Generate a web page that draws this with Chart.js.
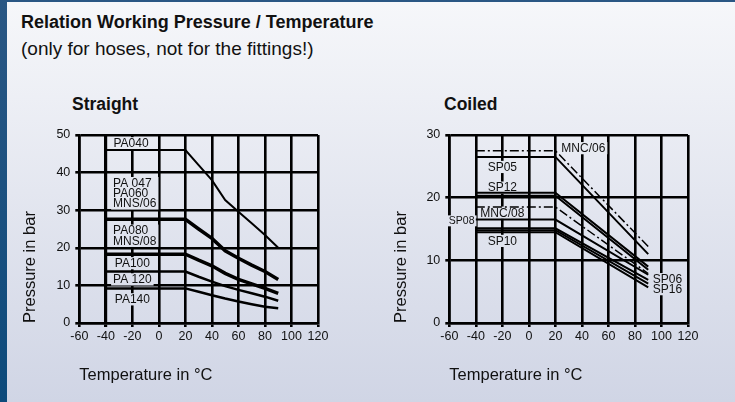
<!DOCTYPE html>
<html>
<head>
<meta charset="utf-8">
<script src="https://cdn.jsdelivr.net/npm/chart.js@4.4.1/dist/chart.umd.min.js"></script>
<style>
html, body { margin: 0; padding: 0; }
body {
    width: 735px; height: 402px; overflow: hidden; position: relative;
    background: linear-gradient(180deg, #2a5784 0%, #0c4a7b 100%);
    font-family: "Liberation Sans", Arial, sans-serif; color: #111;
}
#panel {
    position: absolute; left: 7px; top: 2px; right: 0; bottom: 0;
    background: linear-gradient(180deg, #f6f7fa 0%, #d0d5e5 100%);
}
.txt { position: absolute; white-space: nowrap; line-height: 1; }
#title { left: 21px; top: 13px; font-size: 18px; font-weight: bold; }
#subtitle { left: 21px; top: 39px; font-size: 19px; }
#straightTitle { left: 72px; top: 96px; font-size: 17.5px; font-weight: bold; }
#coiledTitle { left: 444px; top: 96px; font-size: 17.5px; font-weight: bold; }
canvas { position: absolute; top: 120px; }
#straightChart { left: 0; }
#coiledChart { left: 370px; }
</style>
</head>
<body>
<div id="panel"></div>
<div class="txt" id="title">Relation Working Pressure / Temperature</div>
<div class="txt" id="subtitle">(only for hoses, not for the fittings!)</div>
<div class="txt" id="straightTitle">Straight</div>
<div class="txt" id="coiledTitle">Coiled</div>
<canvas id="straightChart" width="370" height="282"></canvas>
<canvas id="coiledChart" width="365" height="282"></canvas>
<script>
// temperature ticks (°C)
const xTicks = [-60, -40, -20, 0, 20, 40, 60, 80, 100, 120];

// Straight hoses
const straightX = [-40, 20, 30, 40, 50, 60, 70, 80, 90];
const pa040 = [46, 46, 42, 38, 32.7, 29.6, 26.5, 23.4, 20];
const pa047 = [27.6, 27.6, 25, 22.5, 19.2, 17.2, 15.4, 13.7, 11.6];
const pa080 = [18.3, 18.3, 16.7, 15.2, 13.2, 11.6, 10.4, 9.2, 7.9];
const pa100 = [13.7, 13.7, 12.3, 11, 9.8, 8.8, 7.9, 7, 5.9];
const pa120 = [9.2, 9.2, 8.3, 7.4, 6.5, 5.7, 5, 4.3, 3.9];
const straightLabels = [
    { text: ['PA040'], x: -21, y: 47.8, align: 'center' },
    { text: ['PA 047', 'PA060', 'MNS/06'], x: -34.5, y: 34.5, align: 'left' },
    { text: ['PA080', 'MNS/08'], x: -34.5, y: 23.2, align: 'left' },
    { text: ['PA100'], x: -20, y: 15.9, align: 'center' },
    { text: ['PA 120'], x: -20, y: 11.6, align: 'center' },
    { text: ['PA140'], x: -20, y: 6.3, align: 'center' }
];

// Coiled hoses
const coiledX = [-40, 20, 90];
const mnc06 = [27.5, 27.5, 12.2];
const sp05 = [26.5, 26.5, 11.0];
const sp12a = [20.8, 20.8, 9.0];
const sp12b = [20.3, 20.3, 8.5];
const mnc08 = [18.5, 18.5, 7.9];
const sp08 = [16.5, 16.5, 7.7];
const sp10a = [15.1, 15.1, 6.9];
const sp10b = [14.8, 14.8, 6.3];
const sp10c = [14.5, 14.5, 5.7];
const coiledLabels = [
    { text: ['MNC/06'], x: 24.5, y: 27.9, align: 'left' },
    { text: ['SP05'], x: -20, y: 24.9, align: 'center' },
    { text: ['SP12'], x: -20, y: 21.6, align: 'center' },
    { text: ['MNC/08'], x: -20, y: 17.6, align: 'center' },
    { text: ['SP08'], x: -41, y: 16.3, align: 'right', size: 10.5 },
    { text: ['SP10'], x: -20, y: 13.1, align: 'center' },
    { text: ['SP06'], x: 93.5, y: 7.0, align: 'left' },
    { text: ['SP16'], x: 93.5, y: 5.4, align: 'left' }
];

const dashDot = [9, 3, 2, 3];

function toPoints(xs, ys) {
    return xs.map((x, i) => ({ x: x, y: ys[i] }));
}

function line(label, xs, ys, width, dash) {
    return {
        label: label,
        data: toPoints(xs, ys),
        borderColor: '#000',
        borderWidth: width,
        borderDash: dash || [],
        pointRadius: 0,
        tension: 0,
        fill: false
    };
}

// page background colour at a given page y, used behind the in-chart labels
function bgAt(pageY) {
    const t = Math.max(0, Math.min(1, (pageY - 2) / 400));
    const a = [246, 247, 250], b = [208, 213, 229];
    const c = a.map((v, i) => Math.round(v + (b[i] - v) * t));
    return 'rgb(' + c.join(',') + ')';
}

function labelPlugin(labels, canvasTop) {
    return {
        id: 'areaLabels',
        beforeDatasetsDraw(chart) {
            const ctx = chart.ctx;
            const xs = chart.scales.x, ys = chart.scales.y;
            ctx.save();
            labels.forEach(l => {
                const size = l.size || 12;
                ctx.font = size + 'px "Liberation Sans", Arial, sans-serif';
                const lh = size * 0.85;
                const px = xs.getPixelForValue(l.x);
                const py = ys.getPixelForValue(l.y);
                const w = Math.max(...l.text.map(t => ctx.measureText(t).width));
                const h = l.text.length * lh;
                let left = px;
                if (l.align === 'center') left = px - w / 2;
                if (l.align === 'right') left = px - w;
                ctx.fillStyle = bgAt(canvasTop + py);
                ctx.fillRect(left - 2, py - h / 2 - 1, w + 4, h + 2);
                ctx.fillStyle = '#111';
                ctx.textAlign = l.align;
                ctx.textBaseline = 'middle';
                l.text.forEach((t, i) => {
                    ctx.fillText(t, px, py - h / 2 + lh * (i + 0.5) + 0.5);
                });
            });
            ctx.restore();
        }
    };
}

function makeChart(canvasId, datasets, yMax, labels, padRight, titlePad, thickAt) {
    const axisFont = { family: '"Liberation Sans", Arial, sans-serif', size: 16.5 };
    const tickFont = { family: '"Liberation Sans", Arial, sans-serif', size: 12.5 };
    return new Chart(document.getElementById(canvasId), {
        type: 'line',
        data: { datasets: datasets },
        options: {
            responsive: false,
            animation: false,
            layout: { padding: { top: 15, right: padRight, bottom: 0, left: 0 } },
            plugins: { legend: { display: false }, tooltip: { enabled: false } },
            scales: {
                x: {
                    type: 'linear',
                    min: -60, max: 120,
                    afterBuildTicks: s => { s.ticks = xTicks.map(v => ({ value: v })); },
                    afterFit: s => { s.height = 79; },
                    ticks: { color: '#111', font: tickFont, padding: 2, maxRotation: 0 },
                    grid: {
                        color: '#000',
                        lineWidth: c => (c.tick && c.tick.value === thickAt ? 3.2 : 2.6),
                        tickLength: 4
                    },
                    border: { color: '#000', width: 2.6 },
                    title: {
                        display: true, text: 'Temperature in °C', align: 'start',
                        color: '#111', font: axisFont, padding: { top: 0, bottom: 17 }
                    }
                },
                y: {
                    min: 0, max: yMax,
                    ticks: { stepSize: 10, color: '#111', font: tickFont, padding: 5 },
                    afterFit: s => { s.width = 79.3; },
                    grid: { color: '#000', lineWidth: 2.6, tickLength: 4 },
                    border: { color: '#000', width: 2.6 },
                    title: {
                        display: true, text: 'Pressure in bar', align: 'start',
                        color: '#111', font: axisFont, padding: { top: titlePad, bottom: 0 }
                    }
                }
            }
        },
        plugins: [labelPlugin(labels, 120)]
    });
}

makeChart('straightChart', [
    line('PA040', straightX, pa040, 2),
    line('PA 047 / PA060 / MNS/06', straightX, pa047, 3.5),
    line('PA080 / MNS/08', straightX, pa080, 3.5),
    line('PA100', straightX, pa100, 2.5),
    line('PA 120 / PA140', straightX, pa120, 2.5)
], 50, straightLabels, 52, 21, -40);

makeChart('coiledChart', [
    line('MNC/06', coiledX, mnc06, 1.5, dashDot),
    line('SP05', coiledX, sp05, 2),
    line('SP12', coiledX, sp12a, 2),
    line('SP12 (2)', coiledX, sp12b, 2),
    line('MNC/08', coiledX, mnc08, 1.5, dashDot),
    line('SP08', coiledX, sp08, 2),
    line('SP10', coiledX, sp10a, 2),
    line('SP06', coiledX, sp10b, 2),
    line('SP16', coiledX, sp10c, 2)
], 30, coiledLabels, 47, 22, null);
</script>
</body>
</html>
